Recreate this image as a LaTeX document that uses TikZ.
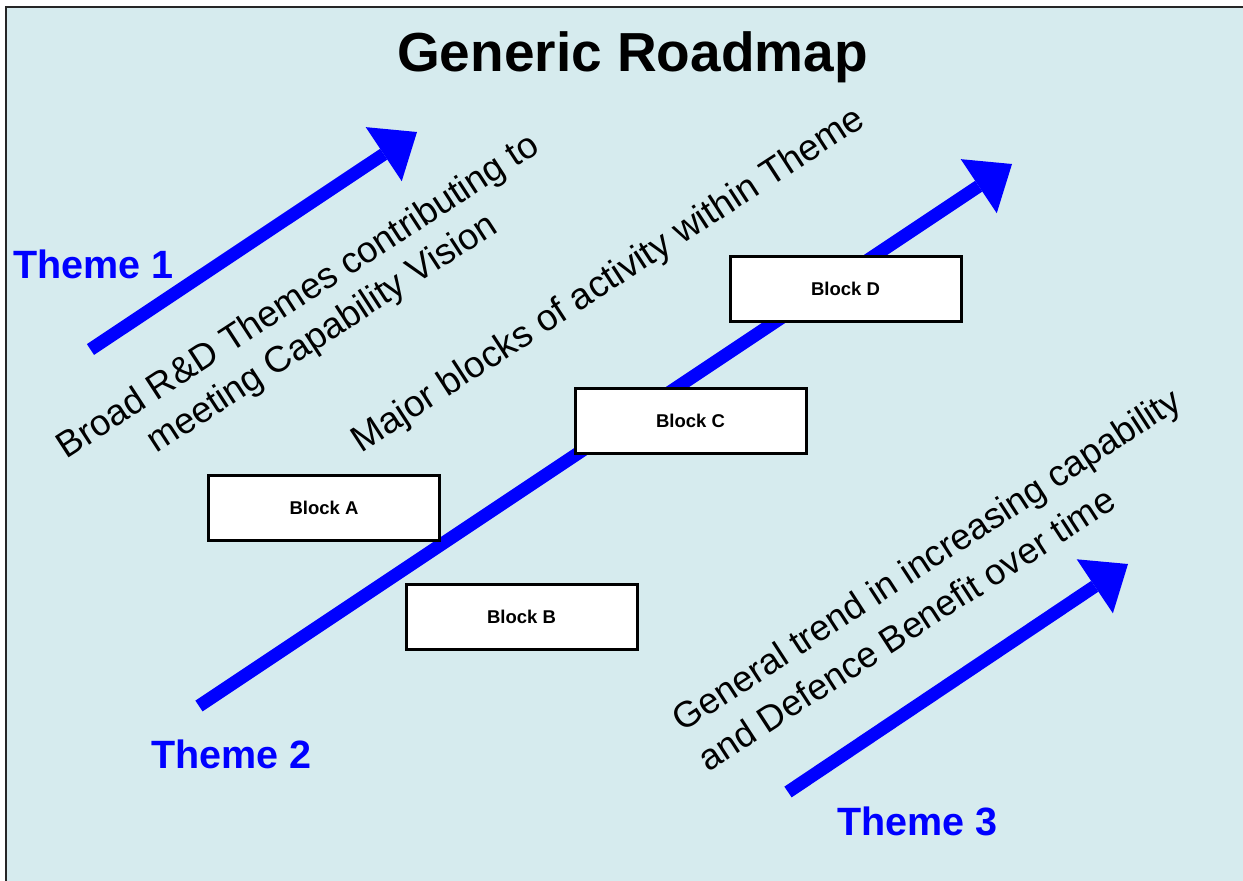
\documentclass[tikz,border=0pt]{standalone}
\usepackage{fontspec}
\setmainfont{Liberation Sans}
\usetikzlibrary{arrows.meta}

\definecolor{roadbg}{RGB}{214,235,238}
\definecolor{themeblue}{RGB}{0,0,255}

\tikzset{
  block/.style={draw=black, line width=3pt, fill=white, inner sep=0pt,
    minimum width=231pt, minimum height=65pt,
    font=\fontsize{18.5}{21}\selectfont\bfseries},
  themelabel/.style={text=themeblue, inner sep=0pt, anchor=base west,
    font=\fontsize{39.5}{45}\selectfont\bfseries},
  note/.style={inner sep=0pt, rotate=33},
  trend/.style={draw=themeblue, line width=13pt,
    -{Triangle[length=40pt,width=65pt,line width=0pt]}}
}

\begin{document}
\begin{tikzpicture}[x=1pt,y=-1pt]
\useasboundingbox (0,0) rectangle (1243,881);
\draw[draw=black!85, line width=2pt, fill=roadbg] (6,7) rectangle (1252,892);

\node (title) [anchor=base, inner sep=0pt, font=\fontsize{55}{60}\selectfont\bfseries]
  at (632.5,71) {Generic Roadmap};

% theme 1
\coordinate (t1tail) at (90.5,349.5);
\coordinate (t1tip) at (417,132);
\draw[trend] (t1tail) -- (t1tip);
\node (themeone) [themelabel] at (13,278) {Theme 1};
\node (broad) [note, align=center, font=\fontsize{36.5}{44}\selectfont] at (311,316)
  {Broad R\&D Themes contributing to\\meeting Capability Vision};

% theme 2 and its blocks
\node (major) [note, font=\fontsize{37}{44}\selectfont] at (609,281)
  {Major blocks of activity within Theme};
\coordinate (t2tail) at (199,706);
\coordinate (t2tip) at (1012,164);
\draw[trend] (t2tail) -- (t2tip);
\node (blockA) [block] at (324,508) {Block A};
\node (blockB) [block] at (521.5,617) {Block B};
\node (blockC) [block] at (690.5,421) {Block C};
\node (blockD) [block] at (845.5,289) {Block D};
\node (themetwo) [themelabel] at (151,768) {Theme 2};

% theme 3
\coordinate (t3tail) at (788,792);
\coordinate (t3tip) at (1128,564);
\draw[trend] (t3tail) -- (t3tip);
\node (general) [note, align=left, font=\fontsize{36.3}{48}\selectfont] at (939,579)
  {General trend in increasing capability\\and Defence Benefit over time};
\node (themethree) [themelabel] at (837,835) {Theme 3};
\end{tikzpicture}
\end{document}
